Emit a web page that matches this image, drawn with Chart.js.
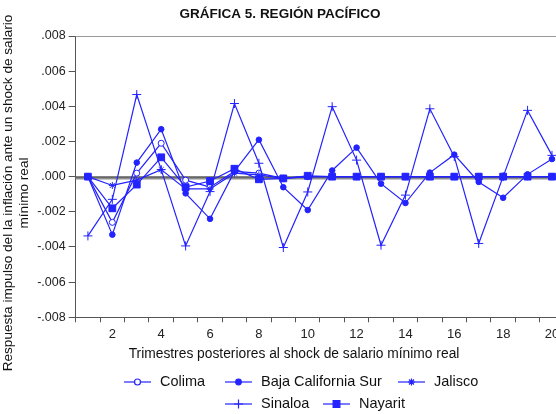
<!DOCTYPE html>
<html>
<head>
<meta charset="utf-8">
<script src="https://cdn.jsdelivr.net/npm/chart.js@4/dist/chart.umd.min.js"></script>
<style>
  html, body { margin: 0; padding: 0; background: #fff; overflow: hidden; }
  #wrap { width: 556px; height: 414px; overflow: hidden; }
</style>
</head>
<body>
<div id="wrap"><canvas id="chart" width="570" height="414"></canvas></div>
<script>
// -----------------------------
// Data
// -----------------------------
const quarters = ["1","2","3","4","5","6","7","8","9","10","11","12","13","14","15","16","17","18","19","20"];

const colima  = [0.0000, -0.0026, 0.0002, 0.0019, -0.0002, -0.0006, 0.0003, 0.0002, -0.0001, 0.0000, 0.0000, 0.0000, 0.0000, 0.0000, 0.0000, 0.0000, 0.0000, 0.0000, 0.0000, 0.0000];
const bcs     = [0.0000, -0.0033, 0.0008, 0.0027, -0.00095, -0.0024, 0.0003, 0.0021, -0.0006, -0.0019, 0.00035, 0.00165, -0.0004, -0.0015, 0.00023, 0.00125, -0.0003, -0.0012, 0.00013, 0.0010];
const jalisco = [0.0000, -0.0005, -0.0002, 0.0004, -0.0007, -0.0007, 0.0002, 0.0001, -0.0001, 0.0000, 0.0000, 0.0000, 0.0000, 0.0000, 0.0000, 0.0000, 0.0000, 0.0000, 0.0000, 0.0000];
const sinaloa = [-0.00337, -0.00129, 0.00467, 0.0004, -0.00394, -0.00085, 0.00416, 0.00076, -0.00403, -0.00087, 0.00398, 0.00094, -0.0039, -0.00105, 0.00386, 0.00114, -0.0038, 0.0000, 0.00377, 0.00121];
const nayarit = [0.0000, -0.0018, -0.00045, 0.0011, -0.0006, -0.00025, 0.00045, -0.00015, -0.0001, 0.00005, 0.0000, 0.0000, 0.0000, 0.0000, 0.0000, 0.0000, 0.0000, 0.0000, 0.0000, 0.0000];

const yMin = -0.008, yMax = 0.008, yStep = 0.002;

// -----------------------------
// Styles
// -----------------------------
const BLUE = "#2323ff";
const FONT = "'Liberation Sans', Arial, sans-serif";

const series = [
  { label: "Colima",              data: colima,  pointStyle: "circle", radius: 3,   fill: "#ffffff" },
  { label: "Baja California Sur", data: bcs,     pointStyle: "circle", radius: 2.8, fill: BLUE },
  { label: "Jalisco",             data: jalisco, pointStyle: "star",   radius: 3.5, fill: BLUE },
  { label: "Sinaloa",             data: sinaloa, pointStyle: "cross",  radius: 4.5, fill: BLUE },
  { label: "Nayarit",             data: nayarit, pointStyle: "rect",   radius: 4.8, fill: BLUE }
];

// legend slots: [series index, line start x, row y]
const legendSlots = [
  [0, 124, 382], [1, 225, 382], [2, 398, 382],
  [3, 225, 404], [4, 323, 404]
];

// -----------------------------
// Decorations: title, axis titles, zero line, legend
// -----------------------------
const decor = {
  id: "decor",
  beforeDatasetsDraw(chart) {
    const { ctx, chartArea: a, scales: { y } } = chart;
    const y0 = Math.round(y.getPixelForValue(0)) + 0.5;
    ctx.save();
    ctx.strokeStyle = "#8e8e8e";
    ctx.lineWidth = 3;
    ctx.beginPath(); ctx.moveTo(a.left, y0 + 0.5); ctx.lineTo(a.right, y0 + 0.5); ctx.stroke();
    ctx.strokeStyle = "#404040";
    ctx.lineWidth = 1;
    ctx.beginPath(); ctx.moveTo(a.left, y0 - 0.5); ctx.lineTo(a.right, y0 - 0.5); ctx.stroke();
    // top frame line
    ctx.strokeStyle = "#9a9a9a";
    ctx.beginPath(); ctx.moveTo(a.left, a.top + 0.5); ctx.lineTo(a.right, a.top + 0.5); ctx.stroke();
    ctx.restore();
  },
  afterDraw(chart) {
    const { ctx } = chart;
    ctx.save();
    ctx.fillStyle = "#111";
    ctx.textBaseline = "middle";

    // title
    ctx.font = "bold 13.5px " + FONT;
    ctx.textAlign = "center";
    ctx.fillText("GRÁFICA 5. REGIÓN PACÍFICO", 280, 14);

    // x title
    ctx.font = "13.8px " + FONT;
    ctx.fillText("Trimestres posteriores al shock de salario mínimo real", 294, 354);

    // y title (two lines, rotated)
    ctx.save();
    ctx.translate(0, 193);
    ctx.rotate(-Math.PI / 2);
    ctx.font = "13.6px " + FONT;
    ctx.fillText("Respuesta impulso del la inflación ante un shock de salario", 0, 8.5);
    ctx.fillText("mínimo real", 0, 24.5);
    ctx.restore();

    // legend
    ctx.textAlign = "left";
    ctx.font = "14.5px " + FONT;
    legendSlots.forEach(([i, x, yy]) => {
      const s = series[i];
      ctx.strokeStyle = BLUE;
      ctx.lineWidth = 1.2;
      ctx.beginPath(); ctx.moveTo(x, yy); ctx.lineTo(x + 27, yy); ctx.stroke();
      ctx.fillStyle = s.fill;
      Chart.helpers.drawPoint(ctx, { pointStyle: s.pointStyle, radius: s.radius, rotation: 0, borderWidth: 1 }, x + 13.5, yy);
      ctx.fillStyle = "#111";
      ctx.fillText(s.label, x + 36, yy);
    });
    ctx.restore();
  }
};

// -----------------------------
// Chart
// -----------------------------
const ctx = document.getElementById("chart").getContext("2d");

new Chart(ctx, {
  type: "line",
  data: {
    labels: quarters,
    datasets: series.map((s, i) => ({
      label: s.label,
      data: s.data,
      order: series.length - i,   // later series drawn on top
      borderColor: BLUE,
      borderWidth: 1.2,
      tension: 0,
      fill: false,
      pointStyle: s.pointStyle,
      pointRadius: s.radius,
      pointBorderWidth: 1,
      pointBorderColor: BLUE,
      pointBackgroundColor: s.fill
    }))
  },
  options: {
    responsive: false,
    animation: false,
    events: [],
    layout: { padding: { top: 36, right: 5.4, bottom: 0, left: 0 } },
    plugins: {
      legend: { display: false },
      title: { display: false },
      tooltip: { enabled: false }
    },
    scales: {
      x: {
        type: "category",
        offset: true,
        grid: { offset: true, drawOnChartArea: false, tickLength: 5, tickColor: "#555", tickWidth: 1 },
        border: { color: "#555", width: 1 },
        ticks: {
          autoSkip: false,
          maxRotation: 0,
          padding: 4,
          color: "#222",
          font: { family: FONT, size: 13 },
          callback: (v, i) => ((i + 1) % 2 === 0 ? quarters[i] : "")
        },
        afterFit: s => { s.height = 96.7; }
      },
      y: {
        min: yMin,
        max: yMax,
        grid: { drawOnChartArea: false, tickLength: 7, tickColor: "#555", tickWidth: 1 },
        border: { color: "#555", width: 1 },
        ticks: {
          stepSize: yStep,
          padding: 3,
          color: "#222",
          font: { family: FONT, size: 12.5 },
          callback: v => (v < -1e-9 ? "-" : "") + Math.abs(v).toFixed(3).replace(/^0/, "")
        },
        afterFit: s => { s.width = 75.7; }
      }
    }
  },
  plugins: [decor]
});
</script>
</body>
</html>
